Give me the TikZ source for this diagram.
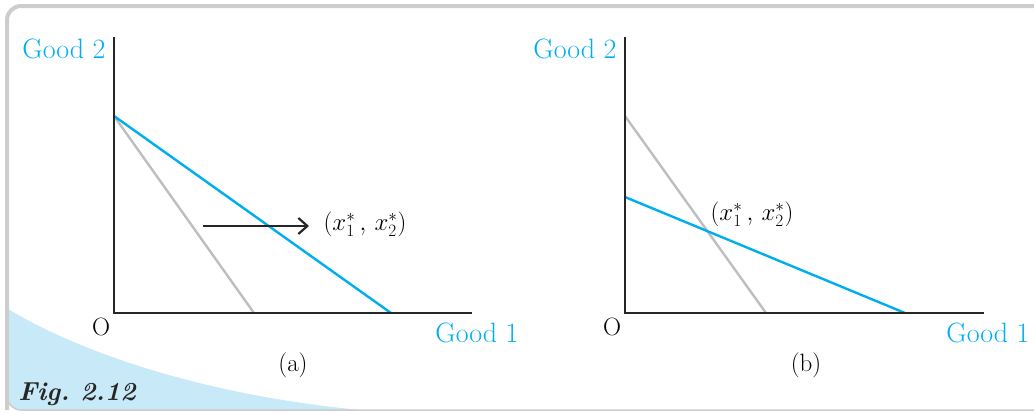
\documentclass[tikz,border=0pt]{standalone}
\usetikzlibrary{arrows.meta,positioning}
\definecolor{goodBlue}{RGB}{0,174,239}
\definecolor{oldGray}{RGB}{190,190,190}
\definecolor{swooshBlue}{RGB}{200,233,248}
\definecolor{frameGray}{RGB}{205,205,205}
\begin{document}
\begin{tikzpicture}[x=1pt,y=-1pt,
  axis/.style={line width=2.6pt,draw=black!85,line join=miter},
  newline/.style={line width=2.4pt,draw=goodBlue},
  oldline/.style={line width=2.4pt,draw=oldGray},
  goodlbl/.style={text=goodBlue,font=\fontsize{28}{32}\selectfont,inner sep=0pt},
  lbl/.style={font=\fontsize{25}{29}\selectfont,inner sep=0pt},
  ptlbl/.style={font=\fontsize{24}{28}\selectfont,inner sep=0pt},
  move/.style={-{Straight Barb[length=9pt,width=16pt]},line width=2.2pt,black!85}
]
  \useasboundingbox (0,0) rectangle (1034,413);
  % frame and swoosh
  \begin{scope}
    \clip[rounded corners=14pt] (7,6) rectangle (1060,410);
    \fill[swooshBlue] (0,304) .. controls (80,355) and (220,400) .. (385,412) -- (0,412) -- cycle;
  \end{scope}
  \draw[frameGray,line width=1.5pt,rounded corners=14pt] (7,6) rectangle (1060,410);
  \draw[frameGray,line width=4pt,rounded corners=14pt] (7,410) -- (7,6) -- (1060,6);
  \node[font=\fontsize{26}{30}\selectfont\bfseries\itshape,text=black!85,inner sep=0pt] (fig) at (77,394) {Fig.\ 2.12};

  % panel (a)
  \coordinate (Oa) at (114,313);
  \coordinate (ya) at (114,37);
  \coordinate (xa) at (472,313);
  \coordinate (ia) at (114,116);
  \coordinate (newa) at (391,313);
  \coordinate (olda) at (254,313);
  \coordinate (ta) at (203,226);
  \coordinate (ha) at (309,226);
  \draw[oldline] (ia) -- (olda);
  \draw[newline] (ia) -- (newa);
  \draw[axis] (ya) -- (Oa) -- (xa);
  \draw[move] (ta) -- (ha);
  \node[goodlbl] (g2a) at (64,49) {Good 2};
  \node[goodlbl] (g1a) at (477,333) {Good 1};
  \node[lbl] (oa) at (101,327) {O};
  \node[lbl] (capa) at (293,365) {(a)};
  \node[ptlbl] (pta) at (365,224) {$(x_1^*\,,\,x_2^*)$};

  % panel (b)
  \coordinate (Ob) at (625,313);
  \coordinate (yb) at (625,37);
  \coordinate (xb) at (984,313);
  \coordinate (ib) at (625,116);
  \coordinate (jb) at (625,197);
  \coordinate (oldb) at (766,313);
  \coordinate (newb) at (905,313);
  \draw[oldline] (ib) -- (oldb);
  \draw[newline] (jb) -- (newb);
  \draw[axis] (yb) -- (Ob) -- (xb);
  \node[goodlbl] (g2b) at (575,49) {Good 2};
  \node[goodlbl] (g1b) at (988,333) {Good 1};
  \node[lbl] (ob) at (612,327) {O};
  \node[lbl] (capb) at (806,365) {(b)};
  \node[ptlbl] (ptb) at (752,214) {$(x_1^*\,,\,x_2^*)$};
\end{tikzpicture}
\end{document}
